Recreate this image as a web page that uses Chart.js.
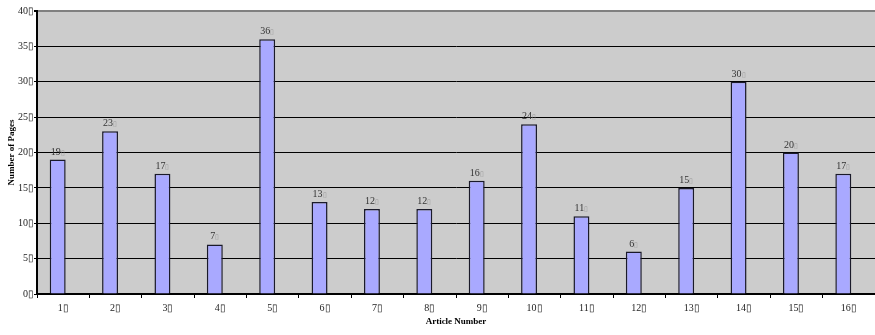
<!DOCTYPE html>
<html>
<head>
<meta charset="utf-8">
<script src="https://cdn.jsdelivr.net/npm/chart.js@4/dist/chart.umd.min.js"></script>
<style>
  html, body { margin: 0; padding: 0; background: #ffffff; }
  #wrap { width: 875px; height: 335px; }
</style>
</head>
<body>
<div id="wrap"><canvas id="c" width="875" height="335"></canvas></div>
<script>
// Article numbers along the x axis
const articles = ['1', '2', '3', '4', '5', '6', '7', '8', '9', '10', '11', '12', '13', '14', '15', '16'];
// Page count of each article
const pages = [19, 23, 17, 7, 36, 13, 12, 12, 16, 24, 11, 6, 15, 30, 20, 17];
// Second (blank) series of the workbook: keeps the bars left of each slot's centre
const blankSeries = [];
// Value axis ticks
const yMin = 0;
const yMax = 40;
const yStep = 5;

const BOX = '\u25AF';
const SERIF = '"Liberation Serif", "Times New Roman", serif';

// Grey plot-area fill behind the bars
const plotBackground = {
  id: 'plotBackground',
  beforeDraw(chart) {
    const { ctx, chartArea: a } = chart;
    ctx.save();
    ctx.fillStyle = '#cccccc';
    ctx.fillRect(a.left, a.top, a.right - a.left, a.bottom - a.top);
    ctx.restore();
  }
};

// Value written above each bar
const valueLabels = {
  id: 'valueLabels',
  afterDatasetsDraw(chart) {
    const { ctx } = chart;
    const meta = chart.getDatasetMeta(0);
    ctx.save();
    ctx.textBaseline = 'alphabetic';
    ctx.textAlign = 'left';
    meta.data.forEach((bar, i) => {
      const num = String(pages[i]);
      ctx.font = '10px ' + SERIF;
      const wNum = ctx.measureText(num).width;
      ctx.font = '7px ' + SERIF;
      const wBox = ctx.measureText(BOX).width;
      const x0 = bar.x - (wNum + wBox) / 2;
      const y = bar.y - 5;
      ctx.font = '10px ' + SERIF;
      ctx.fillStyle = '#333333';
      ctx.fillText(num, x0, y);
      ctx.font = '7px ' + SERIF;
      ctx.fillStyle = '#999999';
      ctx.fillText(BOX, x0 + wNum, y);
    });
    ctx.restore();
  }
};

new Chart(document.getElementById('c'), {
  type: 'bar',
  data: {
    labels: articles,
    datasets: [
      {
        label: 'Pages',
        data: pages,
        backgroundColor: '#a9a9ff',
        borderColor: '#1a1a2a',
        borderWidth: 1.5,
        borderSkipped: 'bottom',
        categoryPercentage: 0.42,
        barPercentage: 1.45
      },
      {
        label: 'Blank',
        data: blankSeries,
        backgroundColor: '#a9a9ff',
        categoryPercentage: 0.42,
        barPercentage: 1.45
      }
    ]
  },
  options: {
    responsive: false,
    animation: false,
    layout: { padding: { top: 11, right: 0, left: 0, bottom: 0 } },
    plugins: {
      legend: { display: false },
      tooltip: { enabled: false }
    },
    scales: {
      x: {
        offset: true,
        grid: {
          display: true,
          offset: true,
          drawOnChartArea: false,
          drawTicks: true,
          tickLength: 4,
          color: '#000000',
          tickColor: '#000000'
        },
        border: { display: true, color: '#000000', width: 2 },
        ticks: {
          padding: 4,
          color: '#222222',
          font: { family: SERIF, size: 10 },
          callback: (v, i) => articles[i] + BOX
        },
        title: {
          display: true,
          text: 'Article Number',
          color: '#000000',
          font: { family: SERIF, size: 9, weight: 'bold' },
          padding: { top: 0, bottom: 8 }
        },
        afterFit(scale) { scale.height = 41; }
      },
      y: {
        min: yMin,
        max: yMax,
        grid: {
          color: (ctx) => (ctx.tick && ctx.tick.value === yMax ? '#808080' : '#000000'),
          lineWidth: (ctx) => (ctx.tick && ctx.tick.value === yMax ? 2 : 1),
          drawTicks: true,
          tickLength: 3,
          tickColor: '#000000'
        },
        border: { display: true, color: '#000000', width: 2 },
        ticks: {
          stepSize: yStep,
          padding: 0,
          color: '#222222',
          font: { family: SERIF, size: 10 },
          callback: (v) => v + BOX
        },
        title: {
          display: true,
          text: 'Number of Pages',
          color: '#000000',
          font: { family: SERIF, size: 9, weight: 'bold' },
          padding: { top: 6, bottom: 0 }
        },
        afterFit(scale) { scale.width = 37; }
      }
    }
  },
  plugins: [plotBackground, valueLabels]
});
</script>
</body>
</html>
